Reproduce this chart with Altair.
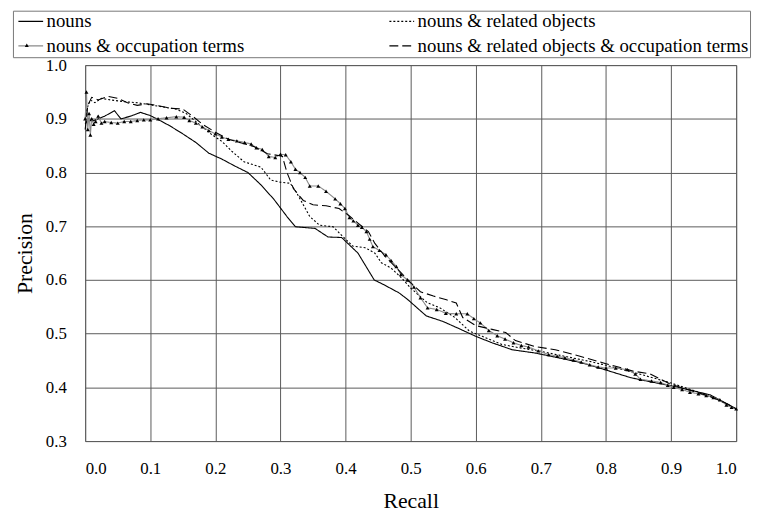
import altair as alt
import pandas as pd

SERIES = [
    "nouns",
    "nouns & related objects",
    "nouns & occupation terms",
    "nouns & related objects & occupation terms",
]

nouns_r = [0.000, 0.005, 0.010, 0.020, 0.030, 0.045, 0.055, 0.070, 0.085, 0.100, 0.110, 0.130, 0.150, 0.170,
           0.190, 0.210, 0.230, 0.250, 0.270, 0.290, 0.310, 0.323, 0.353, 0.373, 0.394, 0.419, 0.444, 0.459,
           0.482, 0.495, 0.524, 0.549, 0.575, 0.600, 0.625, 0.656, 0.691, 0.727, 0.762, 0.798, 0.838, 0.870,
           0.900, 0.929, 0.960, 0.982, 1.000]
nouns_p = [0.890, 0.900, 0.895, 0.900, 0.905, 0.915, 0.900, 0.905, 0.912, 0.906, 0.900, 0.887, 0.872, 0.856,
           0.836, 0.825, 0.812, 0.800, 0.777, 0.750, 0.718, 0.699, 0.696, 0.680, 0.679, 0.650, 0.600, 0.591,
           0.576, 0.564, 0.533, 0.523, 0.509, 0.495, 0.483, 0.470, 0.464, 0.455, 0.446, 0.433, 0.418, 0.410,
           0.403, 0.395, 0.386, 0.372, 0.360]

ro_r = [0.000, 0.003, 0.008, 0.015, 0.025, 0.040, 0.060, 0.080, 0.100, 0.120, 0.140, 0.155, 0.165, 0.180,
        0.195, 0.210, 0.225, 0.244, 0.270, 0.285, 0.300, 0.315, 0.325, 0.335, 0.345, 0.360, 0.381, 0.394,
        0.411, 0.430, 0.445, 0.455, 0.470, 0.485, 0.500, 0.525, 0.545, 0.568, 0.590, 0.610, 0.640, 0.670,
        0.700, 0.740, 0.780, 0.820, 0.860, 0.900, 0.940, 0.970, 1.000]
ro_p = [0.900, 0.920, 0.935, 0.930, 0.938, 0.935, 0.932, 0.930, 0.926, 0.922, 0.918, 0.910, 0.900, 0.885,
        0.870, 0.858, 0.840, 0.820, 0.810, 0.786, 0.782, 0.780, 0.762, 0.740, 0.718, 0.702, 0.699, 0.683,
        0.663, 0.660, 0.650, 0.632, 0.622, 0.605, 0.585, 0.558, 0.548, 0.530, 0.505, 0.495, 0.480, 0.473,
        0.467, 0.457, 0.447, 0.435, 0.422, 0.408, 0.392, 0.378, 0.360]

occ_r = [0.000, 0.002, 0.004, 0.006, 0.008, 0.010, 0.013, 0.016, 0.020, 0.025, 0.030, 0.040, 0.050, 0.060,
         0.070, 0.080, 0.090, 0.100, 0.112, 0.125, 0.140, 0.152, 0.160, 0.170, 0.180, 0.190, 0.200, 0.210,
         0.220, 0.233, 0.245, 0.255, 0.263, 0.272, 0.282, 0.292, 0.300, 0.308, 0.316, 0.323, 0.330, 0.338,
         0.345, 0.358, 0.370, 0.384, 0.392, 0.399, 0.406, 0.412, 0.419, 0.425, 0.432, 0.437, 0.442, 0.452,
         0.462, 0.470, 0.478, 0.485, 0.495, 0.505, 0.515, 0.526, 0.540, 0.554, 0.570, 0.587, 0.597, 0.607,
         0.620, 0.633, 0.645, 0.658, 0.670, 0.681, 0.696, 0.712, 0.725, 0.737, 0.750, 0.762, 0.775, 0.788,
         0.800, 0.815, 0.833, 0.845, 0.853, 0.870, 0.884, 0.895, 0.904, 0.917, 0.929, 0.942, 0.954, 0.965,
         0.975, 0.985, 0.993, 1.000]
occ_p = [0.900, 0.950, 0.880, 0.910, 0.870, 0.900, 0.890, 0.895, 0.905, 0.892, 0.895, 0.893, 0.892, 0.895,
         0.895, 0.897, 0.898, 0.898, 0.900, 0.902, 0.904, 0.903, 0.897, 0.892, 0.885, 0.878, 0.872, 0.866,
         0.862, 0.859, 0.856, 0.853, 0.846, 0.843, 0.830, 0.828, 0.834, 0.833, 0.820, 0.806, 0.800, 0.791,
         0.775, 0.775, 0.765, 0.751, 0.742, 0.733, 0.716, 0.710, 0.702, 0.698, 0.690, 0.676, 0.662, 0.655,
         0.647, 0.636, 0.625, 0.610, 0.600, 0.587, 0.567, 0.548, 0.545, 0.538, 0.537, 0.537, 0.528, 0.520,
         0.506, 0.496, 0.490, 0.483, 0.478, 0.475, 0.468, 0.461, 0.458, 0.455, 0.451, 0.447, 0.442, 0.438,
         0.436, 0.436, 0.433, 0.425, 0.415, 0.412, 0.409, 0.404, 0.400, 0.396, 0.391, 0.388, 0.385, 0.381,
         0.377, 0.367, 0.363, 0.360]

roo_r = [0.000, 0.004, 0.010, 0.020, 0.035, 0.050, 0.065, 0.080, 0.095, 0.110, 0.130, 0.150, 0.165, 0.180,
         0.200, 0.220, 0.240, 0.260, 0.280, 0.295, 0.303, 0.310, 0.320, 0.335, 0.350, 0.370, 0.390, 0.405,
         0.420, 0.435, 0.445, 0.460, 0.480, 0.500, 0.515, 0.535, 0.555, 0.570, 0.580, 0.600, 0.625, 0.646,
         0.661, 0.691, 0.722, 0.760, 0.800, 0.843, 0.868, 0.899, 0.930, 0.960, 0.985, 1.000]
roo_p = [0.880, 0.925, 0.940, 0.935, 0.942, 0.938, 0.930, 0.925, 0.928, 0.925, 0.920, 0.918, 0.905, 0.890,
         0.875, 0.862, 0.855, 0.848, 0.835, 0.832, 0.830, 0.800, 0.770, 0.748, 0.740, 0.738, 0.733, 0.720,
         0.705, 0.690, 0.668, 0.645, 0.620, 0.595, 0.578, 0.570, 0.563, 0.557, 0.530, 0.515, 0.508, 0.502,
         0.487, 0.476, 0.470, 0.458, 0.444, 0.430, 0.425, 0.406, 0.394, 0.383, 0.370, 0.360]

X_TICKS = [0.0, 0.1, 0.2, 0.3, 0.4, 0.5, 0.6, 0.7, 0.8, 0.9, 1.0]
Y_TICKS = [0.3, 0.4, 0.5, 0.6, 0.7, 0.8, 0.9, 1.0]

rows = []
for name, rs, ps in [(SERIES[0], nouns_r, nouns_p), (SERIES[1], ro_r, ro_p),
                     (SERIES[2], occ_r, occ_p), (SERIES[3], roo_r, roo_p)]:
    for i, (r, p) in enumerate(zip(rs, ps)):
        rows.append({"series": name, "recall": r, "precision": p, "idx": i})
df = pd.DataFrame(rows)

FONT = "Liberation Serif"

x_enc = alt.X("recall:Q", scale=alt.Scale(domain=[0, 1], nice=False),
              axis=alt.Axis(values=X_TICKS, format=".1f", title="Recall", grid=True,
                            labelFontSize=17, titleFontSize=22, labelPadding=20, titlePadding=14,
                            tickSize=0, ticks=False, domain=False))
y_enc = alt.Y("precision:Q", scale=alt.Scale(domain=[0.3, 1.0], nice=False, zero=False),
              axis=alt.Axis(values=Y_TICKS, format=".1f", title="Precision", grid=True,
                            labelFontSize=17, titleFontSize=22, labelPadding=19, titlePadding=9,
                            tickSize=0, ticks=False, domain=False))

# legend line symbol: a 25px horizontal stroke starting at the entry's left edge
LINE_SYMBOL = "M-1,0H4"
legend_props = dict(title=None, orient="none", legendX=-73, legendY=-55, columns=2,
                    direction="horizontal", columnPadding=142, rowPadding=5,
                    symbolType=LINE_SYMBOL, symbolSize=100, symbolStrokeWidth=1.2,
                    labelFontSize=19, labelOffset=14, labelFont=FONT, labelLimit=500,
                    labelColor="black", strokeColor="#777777", padding=1)

lines = alt.Chart(df).mark_line(strokeWidth=1.1).encode(
    x=x_enc,
    y=y_enc,
    color=alt.Color("series:N",
                    scale=alt.Scale(domain=SERIES, range=["#000000", "#000000", "#8a8a8a", "#000000"]),
                    legend=alt.Legend(**legend_props)),
    strokeDash=alt.StrokeDash("series:N",
                              scale=alt.Scale(domain=SERIES, range=[[1, 0], [2, 2], [1, 0], [9, 4]]),
                              legend=alt.Legend(**legend_props)),
    order="idx:Q",
)

points = alt.Chart(df).transform_filter(
    alt.datum.series == SERIES[2]
).mark_point(filled=True, color="black", size=16, opacity=1).encode(
    x="recall:Q",
    y="precision:Q",
    shape=alt.Shape("series:N",
                    scale=alt.Scale(domain=[SERIES[2]], range=["triangle-up"]),
                    legend=alt.Legend(title=None, orient="none", legendX=-61, legendY=-22,
                                      labelExpr="''", labelFontSize=1, symbolSize=16,
                                      symbolFillColor="black", symbolStrokeColor="black",
                                      symbolStrokeWidth=0, padding=0)),
)

chart = alt.layer(lines, points).resolve_legend(shape="independent").properties(
    width=658, height=380, autosize="none",
    padding={"left": 78, "top": 55, "right": 16, "bottom": 72},
).configure_view(stroke="#777777", strokeWidth=1).configure_axis(
    gridColor="#5a5a5a", gridOpacity=1, gridWidth=1, labelFont=FONT, titleFont=FONT,
    labelColor="black", titleColor="black", titleFontWeight="normal",
).configure_legend(labelFont=FONT)

chart.save("out.html", embed_options={"renderer": "svg", "actions": False})
